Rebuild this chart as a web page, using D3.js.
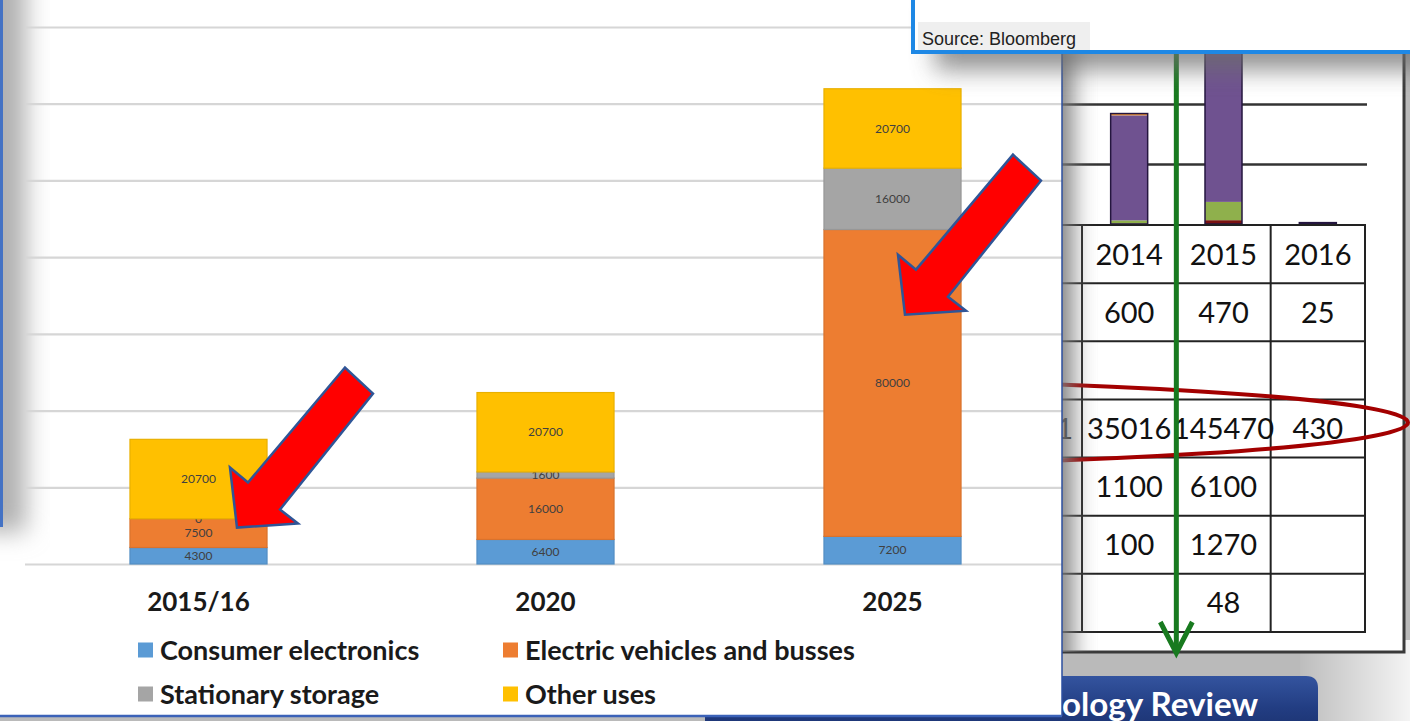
<!DOCTYPE html>
<html>
<head>
<meta charset="utf-8">
<script src="https://cdn.jsdelivr.net/npm/d3@7"></script>
<style>
body { margin: 0; overflow: hidden; background: #bcbcbc; }
svg { display: block; }
</style>
</head>
<body>
<svg id="chart" width="1410" height="721"></svg>
<script>
// main chart data
const categories = ['2015/16', '2020', '2025']
const consumerElectronics = [4300, 6400, 7200]
const electricVehicles = [7500, 16000, 80000]
const stationaryStorage = [0, 1600, 16000]
const otherUses = [20700, 20700, 20700]
const seriesNames = ['Consumer electronics', 'Electric vehicles and busses', 'Stationary storage', 'Other uses']
const seriesColors = ['#5b9bd5', '#ed7d31', '#a5a5a5', '#ffc000']
const yTicks = [0, 20000, 40000, 60000, 80000, 100000, 120000, 140000]

// table of the slide behind it (right)
const tableYears = ['2014', '2015', '2016']
const rowA = [600, 470, 25]
const rowB = [null, null, null]
const rowC = [35016, 145470, 430]
const rowD = [1100, 6100, null]
const rowE = [100, 1270, null]
const rowF = [null, 48, null]
const hiddenColumn = [null, null, null, '1', null, null, null]
const sourceTicks = [20000, 40000]

const svg = d3.select('#chart')
const defs = svg.append('defs')

function blur(id, sd) {
    defs.append('filter').attr('id', id)
        .attr('x', '-50%').attr('y', '-50%').attr('width', '200%').attr('height', '200%')
        .append('feGaussianBlur').attr('stdDeviation', sd)
}
blur('shade', 12)

function gradient(id, horizontal, stops) {
    const g = defs.append('linearGradient').attr('id', id)
        .attr('x1', 0).attr('y1', 0).attr('x2', horizontal ? 1 : 0).attr('y2', horizontal ? 0 : 1)
    stops.forEach(s => g.append('stop').attr('offset', s[0]).attr('stop-color', s[1]))
}
gradient('fadeRight', true, [[0, '#bdbdbd'], [1, '#f4f4f4']])
gradient('tabFill', false, [[0, '#34549f'], [0.5, '#223d82'], [1, '#192e6a']])

defs.append('clipPath').attr('id', 'rightClip')
    .append('rect').attr('x', 1062).attr('y', 52).attr('width', 343).attr('height', 600)
defs.append('clipPath').attr('id', 'mainClip')
    .append('rect').attr('x', 0).attr('y', 0).attr('width', 1062).attr('height', 716)

// backdrop
svg.append('rect').attr('width', 1410).attr('height', 721).attr('fill', '#bababa')
svg.append('rect').attr('x', 1300).attr('y', 640).attr('width', 110).attr('height', 81).attr('fill', 'url(#fadeRight)')

// ---------- slide on the right ----------
const right = svg.append('g')
right.append('rect')
    .attr('x', 1040).attr('y', 40).attr('width', 364).attr('height', 612)
    .attr('fill', '#fff').attr('stroke', '#3a3a3a').attr('stroke-width', 3)

const xr = d3.scaleBand().domain(tableYears).range([1082, 1365])
const yr = d3.scaleLinear().domain([0, 40000]).range([224, 104])
const rowScale = d3.scaleBand().domain(d3.range(7)).range([225, 632])

right.append('g')
    .attr('transform', 'translate(1062,0)')
    .call(d3.axisRight(yr).tickValues(sourceTicks).tickSize(305).tickFormat(''))
    .call(g => g.select('.domain').remove())
    .call(g => g.selectAll('line').attr('stroke', '#333').attr('stroke-width', 2.5))

const rightKeys = ['E', 'D', 'C', 'A']
const rightColors = { E: '#7a1212', D: '#8fb04c', C: '#6f5290', A: '#f0922e' }
const rightRows = tableYears.map((yr, i) => ({
    year: yr, E: rowE[i] || 0, D: rowD[i] || 0, C: rowC[i] || 0, A: rowA[i] || 0
}))
const rightStack = d3.stack().keys(rightKeys)(rightRows)
const barW = 37
right.append('g').attr('clip-path', 'url(#rightClip)')
    .selectAll('g').data(rightStack).join('g')
    .attr('fill', d => rightColors[d.key])
    .selectAll('rect').data(d => d).join('rect')
    .attr('x', d => xr(d.data.year) + xr.bandwidth() / 2 - barW / 2)
    .attr('width', barW)
    .attr('y', d => yr(d[1]))
    .attr('height', d => yr(d[0]) - yr(d[1]))
right.selectAll('.outline').data(rightRows).join('rect')
    .attr('class', 'outline')
    .attr('clip-path', 'url(#rightClip)')
    .attr('x', d => xr(d.year) + xr.bandwidth() / 2 - barW / 2)
    .attr('width', barW)
    .attr('y', d => yr(d.E + d.D + d.C + d.A))
    .attr('height', d => yr(0) - yr(d.E + d.D + d.C + d.A))
    .attr('fill', 'none').attr('stroke', '#24163f').attr('stroke-width', 1.5)

// table grid
const table = right.append('g').attr('stroke', '#222').attr('stroke-width', 2)
d3.range(8).forEach(i => {
    const yy = i < 7 ? rowScale(i) : rowScale.range()[1]
    table.append('line').attr('x1', 1062).attr('x2', 1366).attr('y1', yy).attr('y2', yy)
})
const colEdges = tableYears.map(d => xr(d)).concat([xr.range()[1]])
colEdges.forEach(xx => {
    table.append('line').attr('x1', xx).attr('x2', xx).attr('y1', rowScale(0)).attr('y2', rowScale.range()[1])
})

const tableRows = [tableYears, rowA, rowB, rowC, rowD, rowE, rowF]
tableRows.forEach((row, i) => {
    right.append('g').selectAll('text').data(row).join('text')
        .attr('x', (d, j) => xr(tableYears[j]) + xr.bandwidth() / 2)
        .attr('y', rowScale(i) + rowScale.bandwidth() / 2)
        .attr('dy', '0.36em')
        .attr('text-anchor', 'middle')
        .attr('font-family', 'Lato, sans-serif')
        .attr('font-size', 29)
        .attr('fill', '#111')
        .text(d => d == null ? '' : d)
})
hiddenColumn.forEach((d, i) => {
    if (d == null) return
    right.append('text')
        .attr('x', 1073).attr('y', rowScale(i) + rowScale.bandwidth() / 2).attr('dy', '0.36em')
        .attr('text-anchor', 'end')
        .attr('font-family', 'Lato, sans-serif').attr('font-size', 29).attr('fill', '#111')
        .text(d)
})

// red ring round the row
right.append('ellipse')
    .attr('cx', 700).attr('cy', rowScale(3) + rowScale.bandwidth() / 2 - 6)
    .attr('rx', 708).attr('ry', 44)
    .attr('fill', 'none').attr('stroke', '#a30000').attr('stroke-width', 4)

// green arrow
const gx = xr('2015')
right.append('line').attr('x1', gx).attr('x2', gx).attr('y1', 52).attr('y2', 652)
    .attr('stroke', '#187a1f').attr('stroke-width', 5)
right.append('path')
    .attr('d', d3.line()([[gx - 16, 622], [gx, 653], [gx + 16, 622]]))
    .attr('fill', 'none').attr('stroke', '#187a1f').attr('stroke-width', 5)

// shadow from the chart panel onto the slide
svg.append('rect')
    .attr('x', 1020).attr('y', 20).attr('width', 52).attr('height', 680)
    .attr('fill', '#7a7a7a')
    .attr('filter', 'url(#shade)')
    .attr('clip-path', 'url(#rightClip)')

// title tab at the bottom, only the end of it shows
svg.append('path')
    .attr('d', 'M705,740 L705,676 L1306,676 Q1318,676 1318,688 L1318,740 Z')
    .attr('fill', 'url(#tabFill)')
const tabFont = 'Lato, sans-serif'
const probe = svg.append('text').attr('font-family', tabFont).attr('font-weight', 700)
    .attr('font-size', 30).text('ology Review')
const tabSize = 30 * 196 / probe.node().getComputedTextLength()
probe.remove()
svg.append('text')
    .attr('x', 1258).attr('y', 716)
    .attr('text-anchor', 'end')
    .attr('font-family', tabFont).attr('font-weight', 700).attr('font-size', tabSize)
    .attr('fill', '#fff')
    .text('Technology Review')

// ---------- main chart panel ----------
const main = svg.append('g')
main.append('rect').attr('width', 1062).attr('height', 716).attr('fill', '#fff')
main.append('rect')
    .attr('x', -22).attr('y', -40).attr('width', 48).attr('height', 572)
    .attr('fill', '#b0b0b0')
    .attr('filter', 'url(#shade)')
    .attr('clip-path', 'url(#mainClip)')
main.append('rect').attr('x', 0).attr('y', 0).attr('width', 3).attr('height', 527).attr('fill', '#4472c4')

const x = d3.scaleBand().domain(categories).range([25, 1066]).paddingInner(0.605).paddingOuter(0.3025)
const y = d3.scaleLinear().domain([0, 140000]).range([564, 27])

main.append('g')
    .attr('transform', 'translate(25,0)')
    .call(d3.axisRight(y).tickValues(yTicks).tickSize(1037).tickFormat(''))
    .call(g => g.select('.domain').remove())
    .call(g => g.selectAll('line').attr('stroke', '#d6d6d6').attr('stroke-width', 2.2))

const rows = categories.map((c, i) => ({
    category: c,
    [seriesNames[0]]: consumerElectronics[i],
    [seriesNames[1]]: electricVehicles[i],
    [seriesNames[2]]: stationaryStorage[i],
    [seriesNames[3]]: otherUses[i]
}))
const stacked = d3.stack().keys(seriesNames)(rows)
const color = d3.scaleOrdinal().domain(seriesNames).range(seriesColors)

const layers = main.append('g').selectAll('g').data(stacked).join('g')
layers.selectAll('rect').data(d => d.map(v => Object.assign(v, { key: d.key }))).join('rect')
    .attr('x', d => x(d.data.category))
    .attr('width', x.bandwidth())
    .attr('y', d => y(d[1]))
    .attr('height', d => y(d[0]) - y(d[1]))
    .attr('fill', d => color(d.key))
    .attr('stroke', d => d3.color(color(d.key)).darker(0.25))
    .attr('stroke-width', 1.2)

layers.selectAll('text').data(d => d).join('text')
    .attr('x', d => x(d.data.category) + x.bandwidth() / 2)
    .attr('y', d => (y(d[0]) + y(d[1])) / 2)
    .attr('dy', '0.35em')
    .attr('text-anchor', 'middle')
    .attr('font-family', 'Lato, sans-serif')
    .attr('font-size', 12)
    .attr('fill', '#404040')
    .text(d => d[1] - d[0])

main.append('g').selectAll('text').data(categories).join('text')
    .attr('x', d => x(d) + x.bandwidth() / 2)
    .attr('y', 611)
    .attr('text-anchor', 'middle')
    .attr('font-family', 'Lato, sans-serif').attr('font-weight', 700).attr('font-size', 26)
    .attr('fill', '#1a1a1a')
    .text(d => d)

// legend, two columns
const legend = main.append('g').selectAll('g').data(seriesNames).join('g')
    .attr('transform', (d, i) => `translate(${i % 2 ? 503 : 138},${i < 2 ? 650 : 694})`)
legend.append('rect').attr('y', -7.5).attr('width', 15).attr('height', 15).attr('fill', d => color(d))
legend.append('text')
    .attr('x', 22).attr('dy', '0.36em')
    .attr('font-family', 'Lato, sans-serif').attr('font-weight', 700).attr('font-size', 27)
    .attr('fill', '#1a1a1a')
    .text(d => d)

// red arrows pointing at the EV segments
const arrowShape = [[0, 0], [-7, -60], [11, -45], [108, -160], [136, -134], [43, -18], [61, -4]]
const arrowTargets = [
    { category: '2015/16', dx: 107, value: 9500 },
    { category: '2025', dx: 81, value: 65000 }
]
main.append('g').selectAll('path').data(arrowTargets).join('path')
    .attr('d', d => {
        const tx = x(d.category) + d.dx, ty = y(d.value)
        return d3.line()(arrowShape.map(p => [tx + p[0], ty + p[1]])) + 'Z'
    })
    .attr('fill', '#ff0000').attr('stroke', '#2f5597').attr('stroke-width', 2.5)

main.append('line').attr('x1', 1062).attr('x2', 1062).attr('y1', 0).attr('y2', 716)
    .attr('stroke', '#2d4f9f').attr('stroke-width', 1.5)
main.append('line').attr('x1', 0).attr('x2', 1062).attr('y1', 716).attr('y2', 716)
    .attr('stroke', '#3b62b8').attr('stroke-width', 2.5)

// ---------- source box ----------
svg.append('rect')
    .attr('x', 935).attr('y', 0).attr('width', 500).attr('height', 70)
    .attr('fill', '#6e6e6e').attr('opacity', 0.75)
    .attr('filter', 'url(#shade)')
svg.append('rect')
    .attr('x', 913).attr('y', -10).attr('width', 510).attr('height', 62)
    .attr('fill', '#fff').attr('stroke', '#1e88e5').attr('stroke-width', 4)
svg.append('rect')
    .attr('x', 918).attr('y', 22).attr('width', 172).attr('height', 28)
    .attr('fill', '#efefef')
svg.append('text')
    .attr('x', 922).attr('y', 45)
    .attr('font-family', '"Liberation Sans", Arial, sans-serif').attr('font-size', 18)
    .attr('fill', '#222')
    .text('Source: Bloomberg')
</script>
</body>
</html>
